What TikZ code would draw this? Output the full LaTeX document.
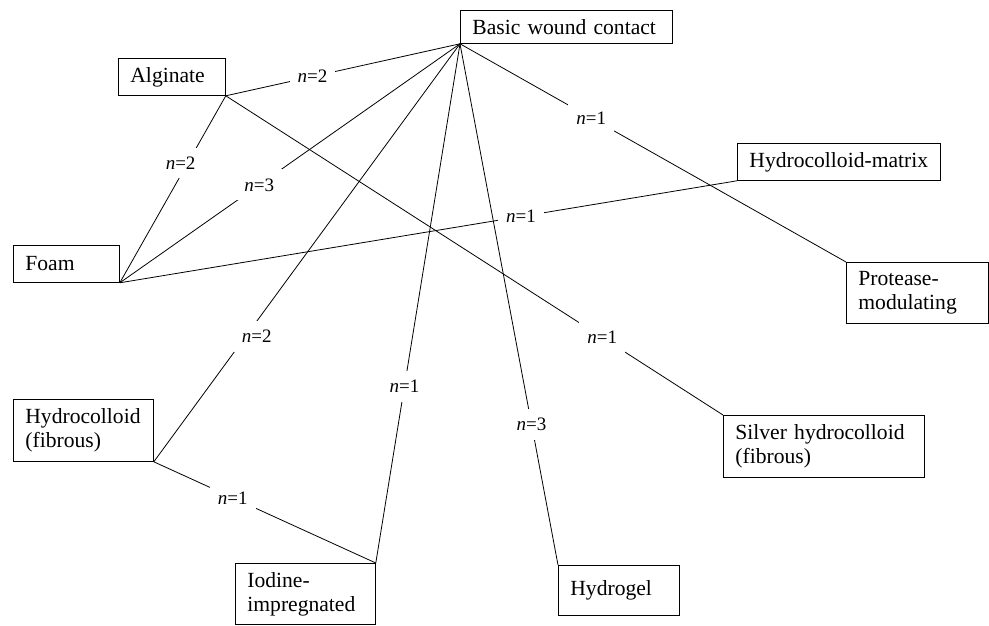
\documentclass[tikz,border=0pt]{standalone}
\usepackage{fontspec}
\setmainfont{Liberation Serif}
\begin{document}
\begin{tikzpicture}[x=1pt,y=-1pt,
  box/.style={draw, line width=0.8pt, anchor=north west, inner xsep=12pt, inner ysep=0pt,
    align=left, font=\fontsize{21.6}{24}\selectfont},
  lab/.style={fill=white, inner xsep=8pt, inner ysep=9pt, font=\fontsize{19}{21}\selectfont},
  link/.style={line width=0.8pt}]
\useasboundingbox (0,0) rectangle (989,626);

\node[box, minimum width=212pt, minimum height=33pt, text width=188pt] (basic) at (460,10) {Basic wound contact};
\node[box, minimum width=107pt, minimum height=37pt, text width=83pt] (alg) at (118,58) {Alginate};
\node[box, minimum width=203pt, minimum height=37pt, text width=179pt] (hm) at (737,143) {Hydrocolloid-matrix};
\node[box, minimum width=106pt, minimum height=37pt, text width=82pt] (foam) at (13,245) {Foam};
\node[box, minimum width=142pt, minimum height=61pt, text width=118pt] (prot) at (846,262) {Protease-\\modulating};
\node[box, minimum width=140pt, minimum height=62pt, text width=116pt] (hf) at (13,399) {Hydrocolloid\\(fibrous)};
\node[box, minimum width=201pt, minimum height=62pt, text width=177pt] (silver) at (723,415) {Silver hydrocolloid\\(fibrous)};
\node[box, minimum width=140pt, minimum height=61pt, text width=116pt] (iod) at (235,563) {Iodine-\\impregnated};
\node[box, minimum width=121pt, minimum height=50pt, text width=97pt] (hyd) at (558,565) {Hydrogel};

\draw[link] (alg.south east) -- node[lab, pos=0.37] {\textit{n}=2} (basic.south west);
\draw[link] (alg.south east) -- node[lab, pos=0.36, xshift=-7pt] {\textit{n}=2} (foam.south east);
\draw[link] (alg.south east) -- node[lab, pos=0.757] {\textit{n}=1} (silver.north west);
\draw[link] (basic.south west) -- node[lab, pos=0.59] {\textit{n}=3} (foam.south east);
\draw[link] (basic.south west) -- node[lab, pos=0.70, xshift=11pt] {\textit{n}=2} (hf.south east);
\draw[link] (basic.south west) -- node[lab, pos=0.66] {\textit{n}=1} (iod.north east);
\draw[link] (basic.south west) -- node[lab, pos=0.73] {\textit{n}=3} (hyd.north west);
\draw[link] (basic.south west) -- node[lab, pos=0.34] {\textit{n}=1} (prot.north west);
\draw[link] (foam.south east) -- node[lab, pos=0.65] {\textit{n}=1} (hm.south west);
\draw[link] (hf.south east) -- node[lab, pos=0.356] {\textit{n}=1} (iod.north east);
\end{tikzpicture}
\end{document}
